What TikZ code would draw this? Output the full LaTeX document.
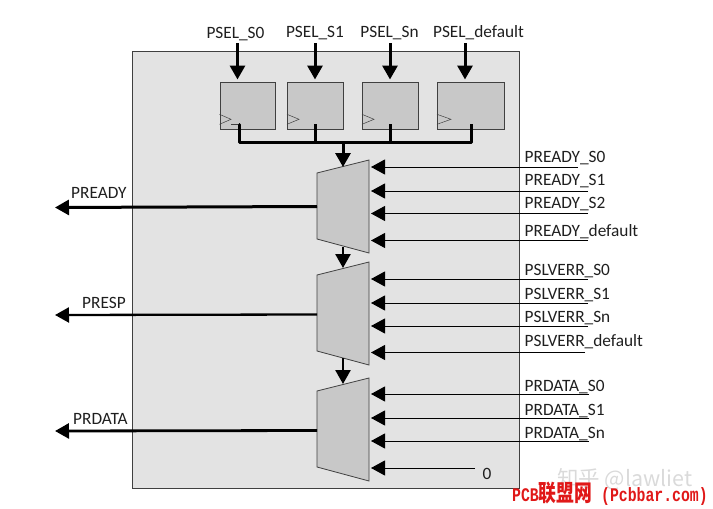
\documentclass[tikz,border=0pt]{standalone}
\usepackage{graphicx}
\usepackage{fontspec}
\setmainfont{Carlito}
\newfontfamily\marktext{Liberation Mono}[BoldFont={Liberation Mono Bold}]
\newfontfamily\markcjk{Noto Sans CJK SC}
\usetikzlibrary{arrows.meta}
\definecolor{panel}{HTML}{E3E3E3}
\definecolor{block}{HTML}{C8C8C8}
\definecolor{edge}{HTML}{404040}
\definecolor{brand}{HTML}{E01818}
\definecolor{faint}{HTML}{DADADA}
\tikzset{
  x=1pt, y=-1pt,
  sigtext/.style={inner sep=0pt, font=\fontsize{17.3}{18}\selectfont, text=black!88},
  leftlab/.style={sigtext, anchor=base west},
  ffbox/.style={draw=edge, line width=0.7pt, fill=block, anchor=north west, inner sep=0pt, minimum height=47pt},
  muxbody/.style={draw=edge, line width=0.8pt, fill=block},
  clk/.style={draw=edge, line width=0.5pt},
  bus/.style={line width=3pt, line cap=butt, line join=miter},
  headbig/.style={-{Triangle[length=14pt,width=15pt]}},
  insig/.style={headbig, line width=1pt},
  selin/.style={headbig, line width=3pt},
  outsig/.style={headbig, line width=2.8pt},
}
\begin{document}
\begin{tikzpicture}
\useasboundingbox (0,0) rectangle (713,509);
% block outline
\draw[fill=panel, draw=black!75, line width=0.8pt] (132,51) rectangle (519,488);

% select registers
\node[ffbox, minimum width=55.5pt] (ff0) at (219.5,82) {};
\node[ffbox, minimum width=56pt] (ff1) at (287,82) {};
\node[ffbox, minimum width=56pt] (ff2) at (362,82) {};
\node[ffbox, minimum width=67pt] (ff3) at (437,82) {};
\draw[clk] (219.5,114.3) -- (231,119.3) -- (219.5,124.3);
\draw[clk] (287,114.3) -- (299,119.3) -- (287,124.3);
\draw[clk] (362,114.3) -- (374,119.3) -- (362,124.3);
\draw[clk] (437,114.3) -- (451,119.3) -- (437,124.3);

% select inputs
\node[sigtext, anchor=base] (sel0) at (235.5,38.5) {PSEL\_S0};
\node[sigtext, anchor=base] (sel1) at (315,37.5) {PSEL\_S1};
\node[sigtext, anchor=base] (sel2) at (389.5,37.5) {PSEL\_Sn};
\node[sigtext, anchor=base] (sel3) at (478.5,37.5) {PSEL\_default};
\coordinate (s0) at (237.5,43); \coordinate (s0t) at (237.5,79.5);
\coordinate (s1) at (315,43);   \coordinate (s1t) at (315,79.5);
\coordinate (s2) at (390,43);   \coordinate (s2t) at (390,79.5);
\coordinate (s3) at (465,43);   \coordinate (s3t) at (465,79.5);
\draw[selin] (s0) -- (s0t);
\draw[selin] (s1) -- (s1t);
\draw[selin] (s2) -- (s2t);
\draw[selin] (s3) -- (s3t);

% multiplexers
\draw[muxbody] (317,173) coordinate (m1a) -- (369,160) -- (369,253) -- (317,239) coordinate (m1b) -- cycle;
\draw[muxbody] (317,275) coordinate (m2a) -- (369,262) -- (369,365) -- (317,351) coordinate (m2b) -- cycle;
\draw[muxbody] (317,391) coordinate (m3a) -- (369,378) -- (369,481) -- (317,467) coordinate (m3b) -- cycle;

% register outputs merged onto the select bus
\coordinate (busL) at (239.5,142); \coordinate (busR) at (471,142);
\draw[line width=0.8pt, edge] (231,124) -- (239.5,124);
\draw[bus, line join=round] (238.5,124) -- (239.5,124) -- (busL) -- (busR) -- (471,124);
\draw[bus] (315,124) -- (315,142);
\draw[bus] (390,124) -- (390,142);
\coordinate (busM) at (343,141); \coordinate (busT) at (343,167);
\draw[headbig, line width=3pt] (busM) -- (busT);
\coordinate (m12a) at (343,247); \coordinate (m12b) at (343,268);
\coordinate (m23a) at (343,358); \coordinate (m23b) at (343,384);
\draw[headbig, line width=2.6pt] (m12a) -- (m12b);
\draw[headbig, line width=2.6pt] (m23a) -- (m23b);

% outputs
\coordinate (o1a) at (317,206.5); \coordinate (o1b) at (55,207.5);
\coordinate (o2a) at (317,314.5); \coordinate (o2b) at (55,315);
\coordinate (o3a) at (317,430.5); \coordinate (o3b) at (55,431);
\draw[outsig, line width=3pt] (o1a) -- (o1b);
\draw[outsig, line width=2.3pt] (o2a) -- (o2b);
\draw[outsig, line width=2.8pt] (o3a) -- (o3b);
\node[leftlab] (oreadyl) at (71,198.5) {PREADY};
\node[leftlab] (oresp) at (82,308.5) {PRESP};
\node[leftlab] (odata) at (73,424.5) {PRDATA};

% data inputs: y position / free end x
\foreach \n/\yy/\xe in {1/167/578, 2/191/588, 3/213.5/588, 4/240.5/588,
                        5/279/588, 6/303/588, 7/326/588, 8/352.5/585,
                        9/394/589, 10/418/589, 11/441/589, 12/468/475}{
  \coordinate (in\n) at (\xe,\yy);
  \coordinate (tip\n) at (371,\yy);
  \draw[insig] (in\n) -- (tip\n);
}

% data input labels
\node[leftlab] (l1) at (524.5,162.5) {PREADY\_S0};
\node[leftlab] (l2) at (524.5,185.5) {PREADY\_S1};
\node[leftlab] (l3) at (524.5,208.5) {PREADY\_S2};
\node[leftlab] (l4) at (524.5,236.5) {PREADY\_default};
\node[leftlab] (l5) at (524.5,275.5) {PSLVERR\_S0};
\node[leftlab] (l6) at (524.5,299.5) {PSLVERR\_S1};
\node[leftlab] (l7) at (524.5,322.5) {PSLVERR\_Sn};
\node[leftlab] (l8) at (524.5,346.5) {PSLVERR\_default};
\node[leftlab] (l9) at (524.5,391.5) {PRDATA\_S0};
\node[leftlab] (l10) at (524.5,415.5) {PRDATA\_S1};
\node[leftlab] (l11) at (524.5,438.5) {PRDATA\_Sn};
\node[leftlab] (zero) at (482.5,479) {0};

% credits along the lower edge
\node[anchor=base west, inner sep=0pt, text=faint, font=\fontsize{21.5}{22}\selectfont\markcjk] (credit) at (557,486) {知乎 @lawliet};
\node[anchor=base west, inner sep=0pt, text=brand] (site) at (512,501) {\scalebox{1}[1.3]{\fontsize{14.8}{16}\selectfont\marktext\bfseries PCB{\fontsize{17.8}{18}\selectfont\markcjk\bfseries 联盟网} (Pcbbar.com)}};
\end{tikzpicture}
\end{document}
